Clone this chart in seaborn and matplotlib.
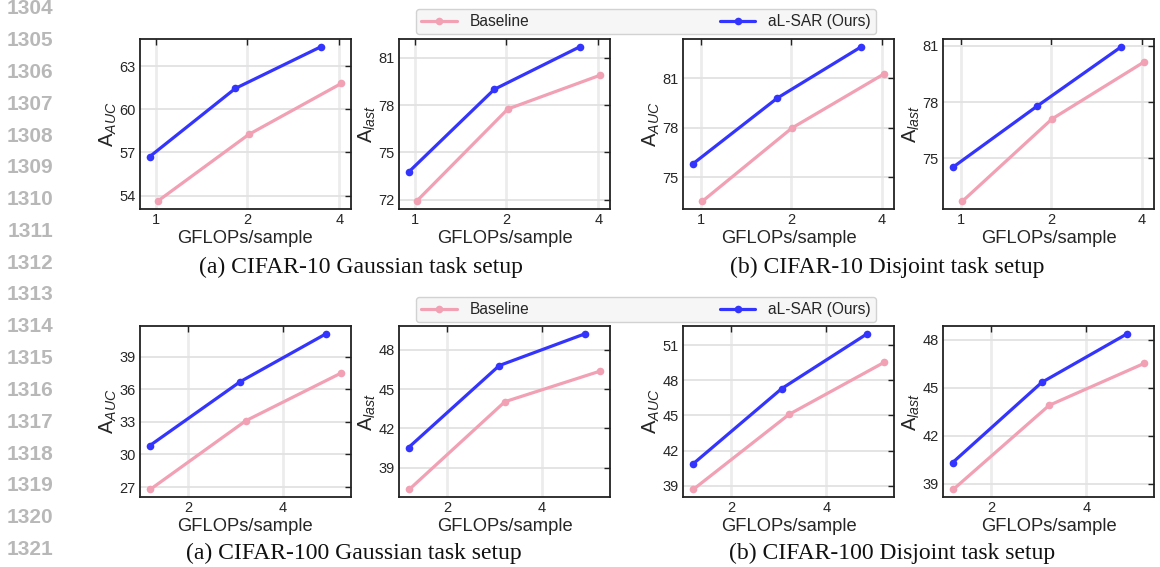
import matplotlib
matplotlib.use("Agg")
import numpy as np
import pandas as pd
import seaborn as sns
import matplotlib.pyplot as plt
from matplotlib.ticker import FixedLocator, MultipleLocator, ScalarFormatter, NullFormatter

# ---------------- data ----------------
methods = ["Baseline", "aL-SAR (Ours)"]
colors = ["#F2A0B3", "#3434FF"]
x_label = "GFLOPs/sample"
x_ticks = [1, 2, 4]

# CIFAR-10 Gaussian
c10g_flops_base = [1.015, 2.02, 4.06]
c10g_flops_ours = [0.956, 1.825, 3.48]
c10g_auc_base = [53.6, 58.25, 61.8]
c10g_auc_ours = [56.7, 61.45, 64.35]
c10g_last_base = [71.9, 77.75, 79.9]
c10g_last_ours = [73.75, 79.0, 81.7]
# CIFAR-10 Disjoint
c10d_flops_base = [1.013, 2.01, 4.08]
c10d_flops_ours = [0.94, 1.80, 3.42]
c10d_auc_base = [73.55, 77.98, 81.27]
c10d_auc_ours = [75.8, 79.8, 82.9]
c10d_last_base = [72.72, 77.1, 80.15]
c10d_last_ours = [74.52, 77.8, 80.95]
# CIFAR-100 Gaussian
c100g_flops_base = [1.52, 3.05, 6.13]
c100g_flops_ours = [1.51, 2.93, 5.48]
c100g_auc_base = [26.8, 33.1, 37.5]
c100g_auc_ours = [30.8, 36.7, 41.1]
c100g_last_base = [37.37, 44.04, 46.38]
c100g_last_ours = [40.55, 46.8, 49.22]
# CIFAR-100 Disjoint
c100d_flops_base = [1.52, 3.05, 6.10]
c100d_flops_ours = [1.51, 2.89, 5.38]
c100d_auc_base = [38.7, 45.1, 49.55]
c100d_auc_ours = [40.83, 47.3, 51.98]
c100d_last_base = [38.67, 43.9, 46.52]
c100d_last_ours = [40.33, 45.33, 48.36]

captions = ["(a) CIFAR-10 Gaussian task setup", "(b) CIFAR-10 Disjoint task setup",
            "(a) CIFAR-100 Gaussian task setup", "(b) CIFAR-100 Disjoint task setup"]
line_numbers = [str(n) for n in range(1304, 1322)]

panels = [
    # (row, col, ylabel, flops_base, flops_ours, base, ours)
    (0, 0, r"$\mathrm{A}_{AUC}$", c10g_flops_base, c10g_flops_ours, c10g_auc_base, c10g_auc_ours),
    (0, 1, r"$\mathrm{A}_{last}$", c10g_flops_base, c10g_flops_ours, c10g_last_base, c10g_last_ours),
    (0, 2, r"$\mathrm{A}_{AUC}$", c10d_flops_base, c10d_flops_ours, c10d_auc_base, c10d_auc_ours),
    (0, 3, r"$\mathrm{A}_{last}$", c10d_flops_base, c10d_flops_ours, c10d_last_base, c10d_last_ours),
    (1, 0, r"$\mathrm{A}_{AUC}$", c100g_flops_base, c100g_flops_ours, c100g_auc_base, c100g_auc_ours),
    (1, 1, r"$\mathrm{A}_{last}$", c100g_flops_base, c100g_flops_ours, c100g_last_base, c100g_last_ours),
    (1, 2, r"$\mathrm{A}_{AUC}$", c100d_flops_base, c100d_flops_ours, c100d_auc_base, c100d_auc_ours),
    (1, 3, r"$\mathrm{A}_{last}$", c100d_flops_base, c100d_flops_ours, c100d_last_base, c100d_last_ours),
]

# ---------------- style ----------------
sns.set_style("white")
plt.rcParams["font.family"] = ["Liberation Sans", "DejaVu Sans"]
plt.rcParams["mathtext.fontset"] = "custom"
plt.rcParams["mathtext.rm"] = "Liberation Sans"
plt.rcParams["mathtext.it"] = "Liberation Sans:italic"

W, H = 1160, 567
fig = plt.figure(figsize=(W / 100, H / 100), dpi=100)

col_left = [140, 399, 683, 943]
ax_w = 211
row_top = [39, 326]
ax_h = [170, 171]

axes = []
for row, col, ylab, fb, fo, yb, yo in panels:
    l = col_left[col]
    t = row_top[row]
    ax = fig.add_axes([l / W, 1 - (t + ax_h[row]) / H, ax_w / W, ax_h[row] / H])
    df = pd.DataFrame({
        "flops": list(fb) + list(fo),
        "acc": list(yb) + list(yo),
        "method": [methods[0]] * len(fb) + [methods[1]] * len(fo),
    })
    sns.lineplot(data=df, x="flops", y="acc", hue="method", hue_order=methods,
                 palette=colors, marker="o", markersize=5.5, markeredgewidth=0,
                 linewidth=2.3, sort=False, legend=False, ax=ax)
    ax.set_xscale("log", base=2)
    ax.xaxis.set_major_locator(FixedLocator(x_ticks))
    ax.xaxis.set_major_formatter(ScalarFormatter())
    ax.xaxis.set_minor_locator(FixedLocator(x_ticks))
    ax.xaxis.set_minor_formatter(NullFormatter())
    ax.yaxis.set_major_locator(MultipleLocator(3))
    ax.set_axisbelow(True)
    ax.yaxis.grid(True, color="#e2e2e2", linewidth=1.3)
    ax.xaxis.grid(True, which="major", color="#ececec", linewidth=2.0)
    ax.xaxis.grid(True, which="minor", color="#c6c6c6", linestyle=":", linewidth=1.0)
    ax.tick_params(which="major", direction="in", top=True, right=True, length=4,
                   width=1.0, labelsize=10.5, pad=3, color="#222222")
    ax.tick_params(which="minor", length=0)
    for s in ax.spines.values():
        s.set_color("#222222")
        s.set_linewidth(1.3)
    ax.set_xlabel(x_label, fontsize=13.2, labelpad=2)
    ax.set_ylabel(ylab, fontsize=14.5, labelpad=0.5)
    axes.append(ax)

# legends
handles = axes[0].get_lines()[:2]
for yc in [21.5, 309.5]:
    fig.legend(handles, methods, loc="center",
               bbox_to_anchor=(416 / W, 1 - yc / H, 460 / W, 0.0),
               mode="expand", ncol=2, fontsize=11.2, handlelength=2.3,
               borderaxespad=0, borderpad=0.35, frameon=True, fancybox=True,
               facecolor="#f6f6f6", edgecolor="#d2d2d2", framealpha=1)

# captions
cap_pos = [(361, 267), (887, 267), (354, 553), (892, 553)]
for txt, (cx, cy) in zip(captions, cap_pos):
    fig.text(cx / W, 1 - cy / H, txt, ha="center", va="center",
             family="Liberation Serif", fontsize=17, color="#111111")

# line numbers
for i, n in enumerate(line_numbers):
    fig.text(53 / W, 1 - (8.8 + 31.8 * i) / H, n, ha="right", va="center",
             fontsize=15, fontweight="bold", color="#b8b8b8")

fig.savefig("out.png", dpi=100)
